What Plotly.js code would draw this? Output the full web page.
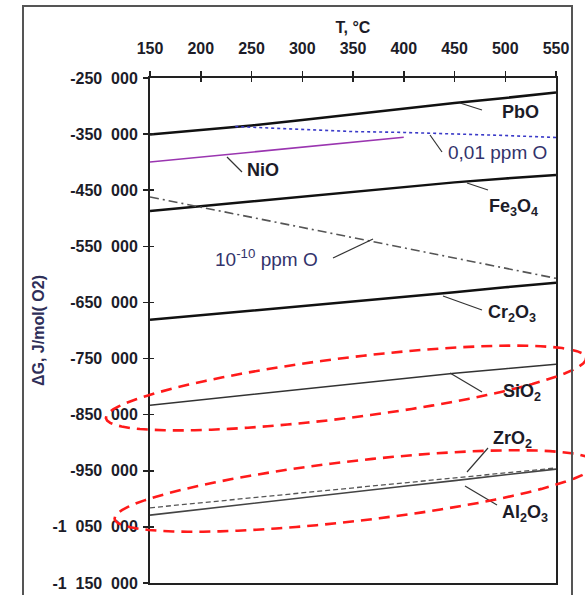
<!DOCTYPE html>
<html><head><meta charset="utf-8">
<script src="https://cdn.plot.ly/plotly-3.0.1.min.js"></script>
<style>html,body{margin:0;padding:0;background:#fff}#chart{width:585px;height:595px}</style>
</head><body><div id="chart"></div>
<script>
// ---- data ----
const temps = [150, 200, 250, 300, 350, 400, 450, 500, 550];
const PbO   = [-350500, -343000, -334500, -325000, -314500, -305000, -294500, -285500, -276000];
const Fe3O4 = [-487000, -478500, -470000, -461000, -452000, -444000, -436000, -429000, -423000];
const Cr2O3 = [-681000, -673000, -665000, -657000, -649000, -641000, -632000, -623000, -615000];
const SiO2  = [-833000, -823500, -814000, -804500, -795000, -785500, -776000, -768000, -760000];
const ZrO2  = [-1016000, -1007000, -998000, -989500, -980500, -971500, -962500, -954000, -945000];
const Al2O3 = [-1029000, -1018500, -1008000, -998000, -988000, -977500, -967500, -957000, -947000];
const NiO_T = [150, 400];
const NiO   = [-399700, -355700];
const ppm001_T = [234, 300, 350, 400, 450, 500, 550];
const ppm001   = [-336500, -342000, -345500, -347000, -349500, -352500, -356000];
const ppm1e10_T = [150, 550];
const ppm1e10   = [-462000, -607000];
const xTickVals = [150, 200, 250, 300, 350, 400, 450, 500, 550];
const yTickVals = [-250000, -350000, -450000, -550000, -650000, -750000, -850000, -950000, -1050000, -1150000];

function fmt(v) {
  const s = Math.abs(v).toString();
  const parts = [];
  for (let i = s.length; i > 0; i -= 3) parts.unshift(s.slice(Math.max(0, i - 3), i));
  return '-' + parts.join('\u00a0\u00a0');
}
const yTickText = yTickVals.map(fmt);

// ---- layout helpers (pixel -> paper) ----
const L = 150, T = 78, W = 406, H = 505;
const px = x => (x - L) / W;
const py = y => (T + H - y) / H;

const FONT = 'Liberation Sans, Arial, sans-serif';

function line(x, y, color, width, dash) {
  return {x: x, y: y, mode: 'lines', type: 'scatter', showlegend: false, hoverinfo: 'skip',
          line: {color: color, width: width, dash: dash || 'solid'}};
}
const traces = [
  line(temps, PbO, '#111', 2.5),
  line(ppm001_T, ppm001, '#3a3ac8', 1.6, 'dot'),
  line(NiO_T, NiO, '#9a35b0', 1.6),
  line(temps, Fe3O4, '#111', 2.5),
  line(ppm1e10_T, ppm1e10, '#555', 1.6, '9px,4px,2px,4px'),
  line(temps, Cr2O3, '#111', 2.5),
  line(temps, SiO2, '#333', 1.5),
  line(temps, ZrO2, '#555', 1.3, '5px,3px'),
  line(temps, Al2O3, '#444', 1.6),
  {x: [null], y: [null], xaxis: 'x2', yaxis: 'y2', mode: 'lines', showlegend: false, hoverinfo: 'skip'}
];

// ellipse outline (decoration) in pixel space -> paper path
function ellipse(cx, cy, a, b, ang) {
  const pts = [];
  for (let i = 0; i <= 72; i++) {
    const t = i / 72 * 2 * Math.PI;
    const x = cx + a * Math.cos(t) * Math.cos(ang) - b * Math.sin(t) * Math.sin(ang);
    const y = cy + a * Math.cos(t) * Math.sin(ang) + b * Math.sin(t) * Math.cos(ang);
    pts.push((i ? 'L' : 'M') + px(x).toFixed(5) + ',' + py(y).toFixed(5));
  }
  return pts.join(' ') + ' Z';
}

const leaders = [
  [460, 103, 482, 110], [430, 135, 442, 152], [227, 157, 242, 172], [467, 183, 488, 190],
  [333, 258, 373, 239], [443, 296, 482, 310], [450, 373, 482, 392], [467, 472, 488, 448],
  [465, 486, 497, 505]
];
const shapes = leaders.map(l => ({type: 'line', xref: 'paper', yref: 'paper',
  x0: px(l[0]), y0: py(l[1]), x1: px(l[2]), y1: py(l[3]), line: {color: '#333', width: 1.2}}));
shapes.push({type: 'path', xref: 'paper', yref: 'paper', path: ellipse(346, 388, 242, 30, -0.125),
  line: {color: '#ff1a1a', width: 2.6, dash: '11px,7px'}});
shapes.push({type: 'path', xref: 'paper', yref: 'paper', path: ellipse(355, 491, 242, 30, -0.115),
  line: {color: '#ff1a1a', width: 2.6, dash: '11px,7px'}});
shapes.push({type: 'rect', xref: 'paper', yref: 'paper', x0: px(23), x1: px(572), y0: py(6), y1: py(610),
  line: {color: '#555', width: 2}});

const labels = [
  ['PbO', 520, 112, true], ['0,01 ppm O', 497, 152, false], ['NiO', 263, 170, true],
  ['Fe<sub>3</sub>O<sub>4</sub>', 513, 207, true], ['10<sup>-10</sup> ppm O', 266, 258, false],
  ['Cr<sub>2</sub>O<sub>3</sub>', 512, 313, true], ['SiO<sub>2</sub>', 522, 392, true],
  ['ZrO<sub>2</sub>', 512, 439, true], ['Al<sub>2</sub>O<sub>3</sub>', 525, 513, true]
];
const annotations = labels.map(l => ({
  text: l[3] ? '<b>' + l[0] + '</b>' : l[0], xref: 'paper', yref: 'paper', x: px(l[1]), y: py(l[2]),
  xanchor: 'center', yanchor: 'middle', showarrow: false,
  font: {family: FONT, size: l[3] ? 18 : 19, color: l[3] ? '#1c1c28' : '#33336b'}
}));

const layout = {
  width: 585, height: 595,
  margin: {l: L, r: 585 - L - W, t: T, b: 595 - T - H, pad: 0},
  paper_bgcolor: '#fff', plot_bgcolor: '#fff',
  showlegend: false,
  xaxis: {
    side: 'top', range: [150, 550], tickvals: xTickVals, ticks: 'outside', ticklen: 5,
    tickwidth: 1.5, tickcolor: '#222', showline: true, linecolor: '#222', linewidth: 1.6, mirror: true,
    showgrid: false, zeroline: false, ticklabelstandoff: 11,
    tickfont: {family: FONT, size: 16, color: '#1c1c28', weight: 'bold'},
    title: {text: '<b>T, °C</b>', standoff: 2, font: {family: FONT, size: 16, color: '#1c1c28'}}
  },
  yaxis: {
    range: [-1150000, -250000], tickvals: yTickVals, ticktext: yTickText, ticks: 'outside', ticklen: 5,
    tickwidth: 1.5, tickcolor: '#222', showline: true, linecolor: '#222', linewidth: 2, mirror: true,
    showgrid: false, zeroline: false, ticklabelstandoff: 2,
    tickfont: {family: FONT, size: 16, color: '#1c1c28', weight: 'bold'},
    title: {text: '<b>\u0394G, J/mol( O2)</b>', standoff: 4, font: {family: FONT, size: 16, color: '#2e2e58'}}
  },
  xaxis2: {overlaying: 'x', side: 'top', range: [150, 550], tickvals: xTickVals, ticks: 'inside', ticklen: 4,
    tickwidth: 1.5, tickcolor: '#222', showticklabels: false, showline: false, showgrid: false, zeroline: false},
  yaxis2: {overlaying: 'y', side: 'left', range: [-1150000, -250000], tickvals: yTickVals, ticks: 'inside', ticklen: 4,
    tickwidth: 1.5, tickcolor: '#222', showticklabels: false, showline: false, showgrid: false, zeroline: false},
  shapes: shapes,
  annotations: annotations
};

Plotly.newPlot('chart', traces, layout, {staticPlot: true, displayModeBar: false});
</script></body></html>
